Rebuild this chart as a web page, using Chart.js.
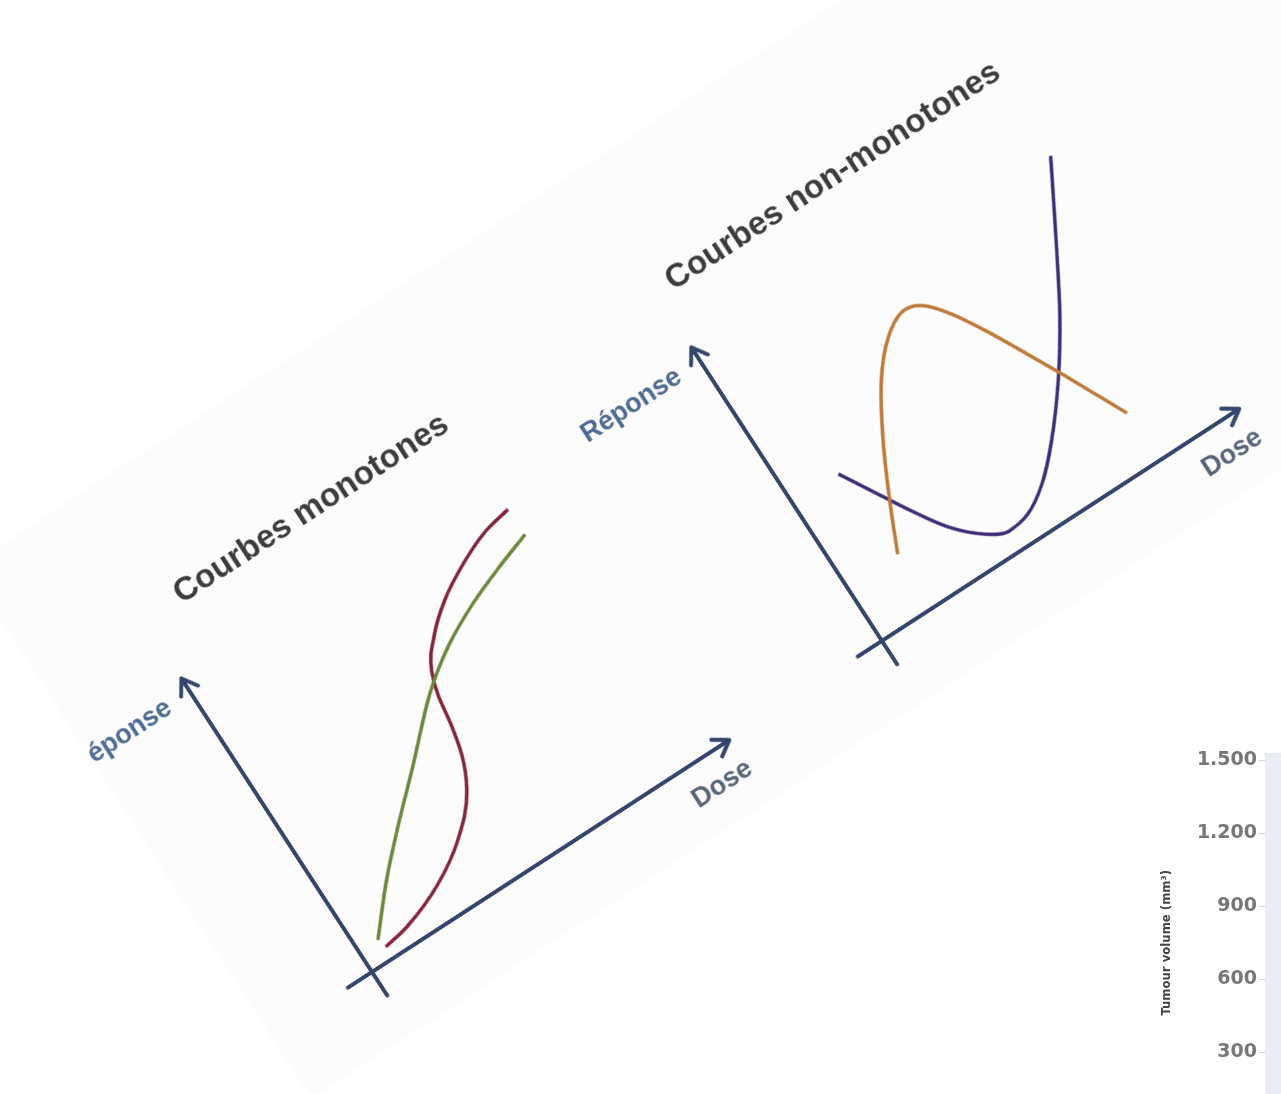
<!DOCTYPE html>
<html>
<head>
<meta charset="utf-8">
<script src="https://cdn.jsdelivr.net/npm/chart.js@4.4.1/dist/chart.umd.min.js"></script>
<style>
  html, body { margin: 0; padding: 0; background: #fff; width: 1281px; height: 1094px; overflow: hidden; }
  #sheet {
    position: absolute; left: 252px; top: 412px; width: 1500px; height: 633px;
    background: #fcfcfc; overflow: hidden;
    transform-origin: 120px 560px; transform: rotate(-33deg);
  }
  #sheet canvas { position: absolute; top: 80px; }
  #mono { left: -50px; }
  #nonmono { left: 558px; }
  #tumour { position: absolute; left: 1155px; top: 740px; }
</style>
</head>
<body>
<div id="sheet">
  <canvas id="mono" width="640" height="600"></canvas>
  <canvas id="nonmono" width="640" height="600"></canvas>
</div>
<canvas id="tumour" width="300" height="399"></canvas>
<script>
// Courbes monotones
const monoGreenDose = [0.56, 1.53, 2.53, 3.65, 5.04, 6.05, 7.13, 8.13, 9.17];
const monoGreenResp = [5.9, 17.0, 27.0, 37.5, 50.8, 58.0, 63.5, 67.4, 70.9];
const monoRedDose = [0.63, 1.38, 2.55, 3.60, 4.45, 4.83, 5.03, 5.15, 5.35, 5.88, 6.58, 7.50, 8.33, 9.15];
const monoRedResp = [3.4, 4.8, 9.3, 16.0, 25.0, 33.0, 41.3, 48.8, 55.0, 62.0, 68.0, 73.3, 76.8, 78.5];

// Courbes non-monotones
const nonOrangeDose = [1.51, 2.02, 2.73, 3.55, 4.27, 4.99, 5.44, 5.92, 6.46, 6.96, 7.43, 7.83, 8.24];
const nonOrangeResp = [16.0, 27.2, 41.4, 54.9, 62.8, 66.3, 64.6, 58.9, 49.8, 40.2, 31.0, 22.8, 14.4];
const nonPurpleDose = [1.36, 1.83, 2.36, 2.93, 3.62, 4.16, 4.78, 5.48, 6.25, 7.26, 8.15, 8.95, 9.57, 10.14];
const nonPurpleResp = [40.9, 32.8, 23.7, 15.0, 8.3, 5.7, 6.7, 11.0, 18.5, 30.8, 43.8, 57.5, 68.5, 78.7];

// partial chart, bottom right
const tumourTicks = [300, 600, 900, 1200, 1500];

const pts = (xs, ys) => xs.map((x, i) => ({ x: x, y: ys[i] }));

const arrowAxes = {
  id: 'arrowAxes',
  beforeDatasetsDraw(chart, args, o) {
    const { ctx, scales: { x, y } } = chart;
    const x0 = x.getPixelForValue(0), y0 = y.getPixelForValue(0);
    const xEnd = x.getPixelForValue(o.xMax), yEnd = y.getPixelForValue(o.yMax);
    ctx.save();
    ctx.strokeStyle = '#34466b';
    ctx.lineWidth = 4;
    ctx.lineCap = 'round';
    ctx.lineJoin = 'round';
    ctx.beginPath();
    ctx.moveTo(x.getPixelForValue(o.xMin), y0); ctx.lineTo(xEnd, y0);
    ctx.moveTo(x0, y.getPixelForValue(o.yMin)); ctx.lineTo(x0, yEnd);
    ctx.moveTo(xEnd - 15, y0 - 10); ctx.lineTo(xEnd, y0); ctx.lineTo(xEnd - 15, y0 + 10);
    ctx.moveTo(x0 - 10, yEnd + 15); ctx.lineTo(x0, yEnd); ctx.lineTo(x0 + 10, yEnd + 15);
    ctx.stroke();

    ctx.textAlign = 'center';
    ctx.textBaseline = 'middle';
    ctx.font = 'bold 33px "Liberation Sans", Arial, sans-serif';
    ctx.fillStyle = '#3c3c3c';
    ctx.fillText(o.title, x.getPixelForValue(o.titleAt[0]), y.getPixelForValue(o.titleAt[1]));
    ctx.font = 'bold 27px "Liberation Sans", Arial, sans-serif';
    ctx.fillStyle = '#4d6b93';
    ctx.fillText('Réponse', x.getPixelForValue(-2.05), y.getPixelForValue(83.3));
    ctx.fillStyle = '#56657a';
    ctx.fillText('Dose', x.getPixelForValue(9.9), y.getPixelForValue(-8.3));
    ctx.restore();
  }
};

const curve = (data, color) => ({
  data: data,
  borderColor: color,
  borderWidth: 3.5,
  pointRadius: 0,
  cubicInterpolationMode: 'monotone',
  fill: false
});

const panel = (id, datasets, title, titleAt) => new Chart(document.getElementById(id), {
  type: 'line',
  data: { datasets: datasets },
  options: {
    responsive: false,
    animation: false,
    layout: { padding: 0 },
    plugins: {
      legend: { display: false },
      tooltip: { enabled: false },
      arrowAxes: { xMin: -0.72, xMax: 10.65, yMin: -7, yMax: 87.5, title: title, titleAt: titleAt }
    },
    scales: {
      x: { type: 'linear', min: -4.25, max: 11.75, display: false },
      y: { type: 'linear', min: -30, max: 120, display: false }
    }
  },
  plugins: [arrowAxes]
});

panel('mono', [
  curve(pts(monoGreenDose, monoGreenResp), '#6a873c'),
  curve(pts(monoRedDose, monoRedResp), '#82243a')
], 'Courbes monotones', [5.03, 105.2]);

panel('nonmono', [
  curve(pts(nonOrangeDose, nonOrangeResp), '#bd7a3a'),
  curve(pts(nonPurpleDose, nonPurpleResp), '#3e2c78')
], 'Courbes non-monotones', [5.3, 104]);

const areaFill = {
  id: 'areaFill',
  beforeDraw(chart) {
    const a = chart.chartArea;
    chart.ctx.save();
    chart.ctx.fillStyle = '#e8edf3';
    chart.ctx.fillRect(a.left, a.top - 7, a.right - a.left, a.bottom - a.top + 7);
    chart.ctx.restore();
  }
};

const fmt = v => v >= 1000 ? Math.floor(v / 1000) + '.' + String(v % 1000).padStart(3, '0') : String(v);

new Chart(document.getElementById('tumour'), {
  type: 'line',
  data: { datasets: [] },
  options: {
    responsive: false,
    animation: false,
    layout: { padding: { top: 20, bottom: 0, left: 0, right: 0 } },
    plugins: { legend: { display: false }, tooltip: { enabled: false } },
    scales: {
      x: { type: 'linear', display: false },
      y: {
        min: 0, max: 1500,
        afterFit(s) { s.width = 110; },
        afterBuildTicks(s) { s.ticks = tumourTicks.map(v => ({ value: v })); },
        ticks: {
          callback: v => fmt(v),
          color: '#777',
          padding: 2,
          font: { family: '"DejaVu Sans", sans-serif', weight: 'bold', size: 19 }
        },
        grid: { drawOnChartArea: false, tickLength: 6, color: '#d3d8de' },
        border: { display: false },
        title: {
          display: true,
          text: 'Tumour volume (mm³)',
          color: '#444',
          padding: { top: 4, bottom: 2 },
          font: { family: '"Liberation Sans Narrow", "DejaVu Sans Condensed", sans-serif', weight: 'bold', size: 13 }
        }
      }
    }
  },
  plugins: [areaFill]
});
</script>
</body>
</html>
